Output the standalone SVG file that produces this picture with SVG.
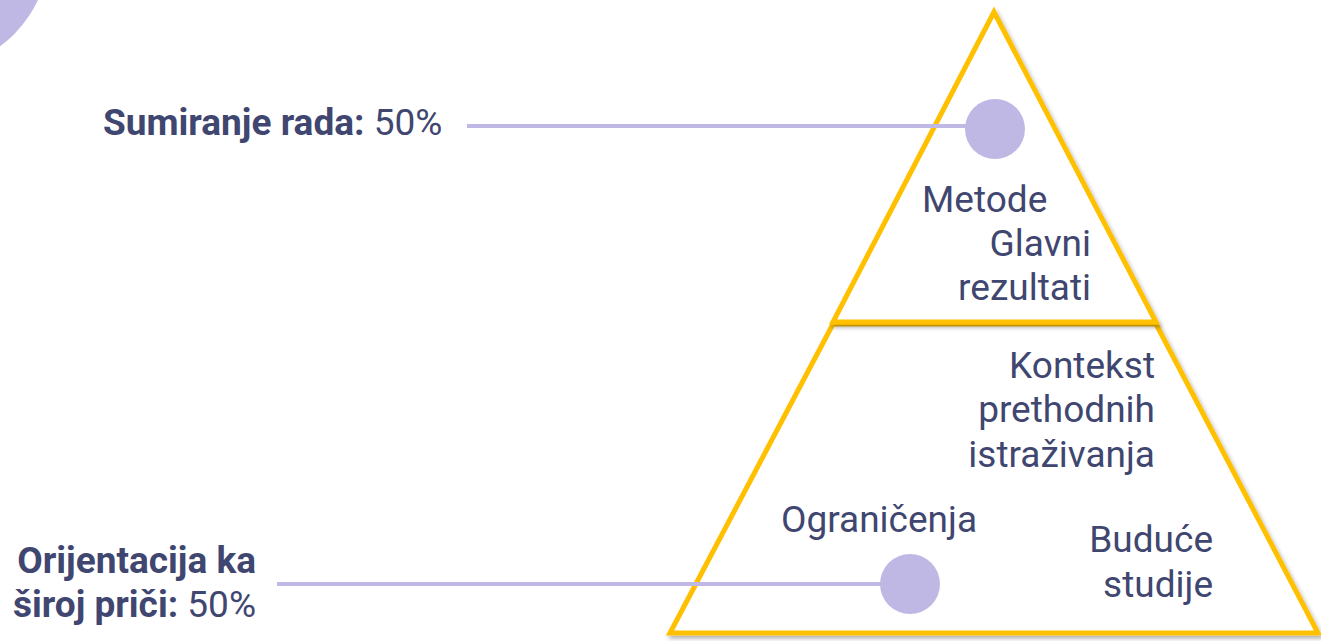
<svg xmlns="http://www.w3.org/2000/svg" width="1321" height="641" viewBox="0 0 1321 641">
<style>
.t{font-family:Roboto,"Liberation Sans",sans-serif;font-size:37px;fill:#3f4670}
.b{font-weight:bold}
.edge{fill:#fff;stroke:#ffc000;stroke-width:5;stroke-linejoin:miter}
.conn{stroke:#c0b8e4;stroke-width:4;fill:none}
.dot{fill:#c0b8e4}
</style>
<defs>
<filter id="sh" x="-10%" y="-10%" width="120%" height="120%">
<feDropShadow dx="2" dy="3" stdDeviation="2" flood-color="#000" flood-opacity="0.3"/>
</filter>
</defs>
<circle cx="-70" cy="-50" r="119" fill="#c0b8e4"/>
<g id="pyramid-bottom">
<polygon class="edge" filter="url(#sh)" points="833,324 1156,324 1318,633 670,633"/>
</g>
<g id="pyramid-top">
<polygon class="edge" filter="url(#sh)" points="994,12 1156,322 833,322"/>
</g>
<g id="connectors">
<line class="conn" x1="467" y1="126" x2="975" y2="126"/>
<line class="conn" x1="277" y1="584" x2="895" y2="584"/>
</g>
<g id="dot-top"><circle class="dot" cx="995" cy="129" r="30"/></g>
<g id="dot-bottom"><circle class="dot" cx="910" cy="584" r="30"/></g>
<g id="label-top">
<text class="t" x="103" y="135"><tspan class="b">Sumiranje rada:</tspan> 50%</text>
</g>
<g id="label-bottom">
<text class="t" text-anchor="end"><tspan class="b" x="256" y="573">Orijentacija ka</tspan><tspan x="256" y="617"><tspan class="b">široj priči:</tspan> 50%</tspan></text>
</g>
<g id="top-texts">
<text class="t" x="922" y="212">Metode</text>
<text class="t" text-anchor="end"><tspan x="1091" y="256">Glavni</tspan><tspan x="1091" y="300">rezultati</tspan></text>
</g>
<g id="bottom-texts">
<text class="t" text-anchor="end"><tspan x="1155" y="378">Kontekst</tspan><tspan x="1155" y="422">prethodnih</tspan><tspan x="1155" y="467">istraživanja</tspan></text>
<text class="t" x="781" y="532">Ograničenja</text>
<text class="t" text-anchor="end"><tspan x="1213" y="552">Buduće</tspan><tspan x="1213" y="597">studije</tspan></text>
</g>
</svg>
